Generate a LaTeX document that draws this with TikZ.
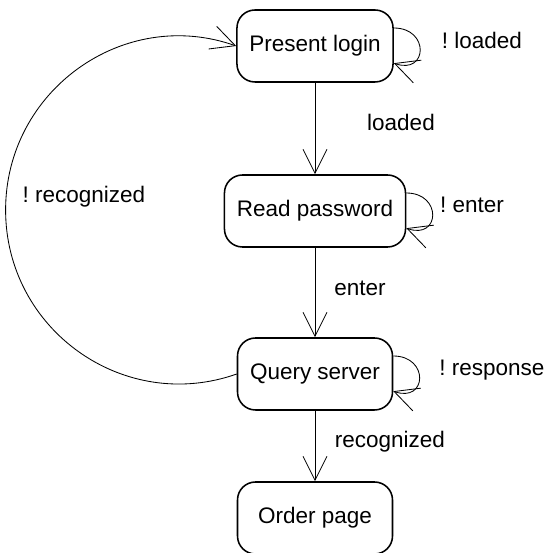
\documentclass[tikz,border=0pt]{standalone}
\usepackage{fontspec}
\setmainfont{Liberation Sans}
\usetikzlibrary{arrows.meta}
\frenchspacing

\tikzset{
  state/.style={draw,line width=1.1pt,rounded corners=.45cm,minimum width=3.875cm,
    minimum height=1.8cm,inner xsep=.31cm,font=\fontsize{16}{19}\selectfont},
  trans/.style={line width=.6pt,-{Straight Barb[length=.6cm,width=.6cm]}},
  lbl/.style={font=\fontsize{16}{19}\selectfont}
}

\begin{document}
\begin{tikzpicture}
\useasboundingbox (0,0) rectangle (13.7,13.825);
% states
\node[state] (login) at (7.875,12.675) {Present login};
\node[state] (password) at (7.875,8.55) {Read password};
\node[state] (query) at (7.875,4.475) {Query server};
\node[state] (order) at (7.875,.875) {Order page};
% straight transitions
\draw[trans] (login.south) -- (password.north);
\draw[trans] (password.south) -- (query.north);
\draw[trans] (query.south) -- (order.north);
% self loops
\foreach \s in {login,password,query}
  \draw[trans] ([yshift=.45cm]\s.east) .. controls +(.9,0) and +(.85,-.3) .. ([yshift=-.43cm]\s.east);
% back to the start
\coordinate (bend) at (.14,8.575);
\draw[trans] (query.west) to[out=199.5,in=-90,looseness=1.08] (bend)
  to[out=90,in=160.5,looseness=1.08] (login.west);
% labels
\node[lbl] (nloaded) at (12.05,12.825) {! loaded};
\node[lbl] (loaded) at (10.025,10.775) {loaded};
\node[lbl] (nrecog) at (2.1,8.9) {! recognized};
\node[lbl] (nenter) at (11.8,8.7) {! enter};
\node[lbl] (enter) at (9,6.625) {enter};
\node[lbl] (nresp) at (12.3,4.575) {! response};
\node[lbl] (recog) at (9.75,2.775) {recognized};
\end{tikzpicture}
\end{document}
